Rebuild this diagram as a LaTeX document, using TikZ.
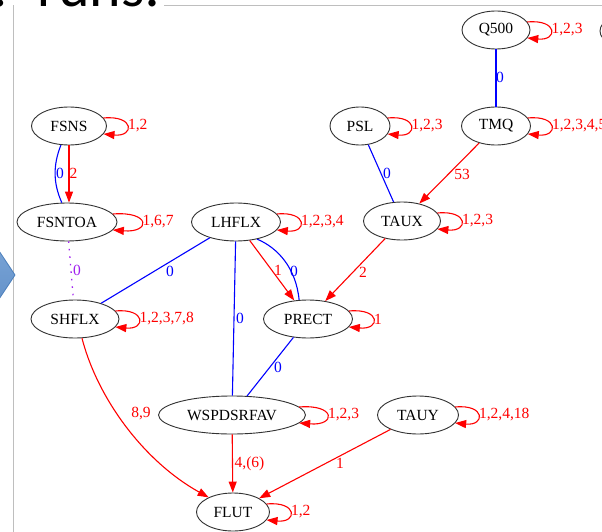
\documentclass[tikz,border=0pt]{standalone}
\usepackage{fontspec}
\setmainfont{Liberation Serif}
\newfontfamily\gvfont{Liberation Serif}
\newfontfamily\slidefont{Carlito}
\usetikzlibrary{shapes.geometric,arrows.meta,calc}

\definecolor{gvred}{rgb}{1,0,0}
\definecolor{gvblue}{rgb}{0,0,1}
\definecolor{gvpurple}{RGB}{160,32,240}
\definecolor{gvline}{RGB}{50,50,50}
\definecolor{framegray}{RGB}{190,190,190}
\definecolor{arrowtop}{RGB}{141,180,226}
\definecolor{arrowbot}{RGB}{79,129,189}
\definecolor{arrowedge}{RGB}{74,126,187}

\tikzset{
  var/.style={ellipse, draw=gvline, line width=0.9pt, inner sep=0pt,
    minimum height=38pt, font=\gvfont\fontsize{15.5}{18}\selectfont},
  elbl/.style={inner sep=0.5pt, font=\gvfont\fontsize{15.5}{18}\selectfont},
  redge/.style={draw=gvred, line width=1.1pt, -{Triangle[length=11pt,width=8pt]}},
  bedge/.style={draw=gvblue, line width=1.1pt},
  pedge/.style={draw=gvpurple, line width=1.3pt, dash pattern=on 1.5pt off 6pt},
}

% self-loop on the right side of a variable: [reach]{node}{inset}{lags}
\newcommand{\selfloop}[4][20]{%
  \draw[redge] ($(#2.east)+(-#3,-8)$)
    .. controls +({(#1+#3)/0.75},-3) and +({(#1+#3)/0.75},3) ..
    ($(#2.east)+(-#3,8)$)
    node[pos=0.5, elbl, text=gvred, anchor=west] (#2-lp) {#4};}

\begin{document}
\begin{tikzpicture}[x=1pt,y=-1pt]
\useasboundingbox (0,0) rectangle (602,532);
\clip (0,0) rectangle (602,532);
\fill[white] (0,0) rectangle (602,532);

% slide title fragment and frame of the graph picture
\node[font=\slidefont\fontsize{60}{60}\selectfont, anchor=base, inner sep=0pt] (tdot) at (0,6.5) {.};
\node[font=\slidefont\fontsize{60}{60}\selectfont, anchor=base west, inner sep=0pt] (runs) at (37,6.5) {runs:};
\draw[framegray, line width=1pt] (13.5,5.5) -- (13.5,532);
\draw[framegray, line width=1pt] (164,5.5) -- (602,5.5);

% slide arrow on the left
\draw[arrowedge, line width=0.8pt, top color=arrowtop, bottom color=arrowbot]
  (-40,192) -- (15,275) -- (-40,358) -- cycle;

% variables
\node[var, minimum width=68pt]  (Q500)   at (496,30)  {Q500};
\node[var, minimum width=74pt]  (cut)    at (637,31)  {};
\node[var, minimum width=75pt]  (FSNS)   at (69,126)  {FSNS};
\node[var, minimum width=60pt]  (PSL)    at (360,126) {PSL};
\node[var, minimum width=69pt]  (TMQ)    at (496,126) {TMQ};
\node[var, minimum width=100pt] (FSNTOA) at (67,222)  {FSNTOA};
\node[var, minimum width=89pt]  (LHFLX)  at (236,222) {LHFLX};
\node[var, minimum width=77pt]  (TAUX)   at (402,221) {TAUX};
\node[var, minimum width=88pt]  (SHFLX)  at (75,319)  {SHFLX};
\node[var, minimum width=89pt]  (PRECT)  at (308,319) {PRECT};
\node[var, minimum width=147pt] (WSPD)   at (232,415) {WSPDSRFAV};
\node[var, minimum width=81pt]  (TAUY)   at (418,415) {TAUY};
\node[var, minimum width=73pt]  (FLUT)   at (233,512) {FLUT};

% self-loops
\selfloop{Q500}{3.2}{1,2,3}
\selfloop{FSNS}{3.5}{1,2}
\selfloop{PSL}{2.8}{1,2,3}
\selfloop{TMQ}{3.2}{1,2,3,4,5}
\selfloop[24]{FSNTOA}{4.6}{1,6,7}
\selfloop[19]{LHFLX}{4.1}{1,2,3,4}
\selfloop{TAUX}{3.6}{1,2,3}
\selfloop[19]{SHFLX}{4.1}{1,2,3,7,8}
\selfloop{PRECT}{4.1}{1}
\selfloop[21]{WSPD}{6.8}{1,2,3}
\selfloop[19]{TAUY}{3.8}{1,2,4,18}
\selfloop{FLUT}{3.4}{1,2}

% links between variables
\draw[bedge] (Q500) -- (TMQ);
\node[elbl, text=gvblue] (lQT) at (500,77) {0};

\draw[redge] (FSNS.south) -- (FSNS.south |- FSNTOA.north);
\node[elbl, text=gvred] (lFF2) at (73.5,173) {2};
\draw[bedge] (FSNS.247) .. controls (53,165) and (53,183) .. (FSNTOA.105);
\node[elbl, text=gvblue] (lFF0) at (60,173) {0};

\draw[pedge] (FSNTOA) -- (SHFLX);
\node[elbl, text=gvpurple] (lFS) at (77,270.5) {0};

\draw[bedge] (LHFLX) -- (SHFLX);
\node[elbl, text=gvblue] (lLS) at (170,271) {0};

\draw[bedge] (LHFLX) -- (WSPD);
\node[elbl, text=gvblue] (lLW) at (240,318) {0};

\draw[redge] (LHFLX) -- (PRECT);
\node[elbl, text=gvred] (lLP1) at (278,270) {1};
\draw[bedge] (LHFLX.-39) .. controls (278,248) and (296,268) .. (PRECT.115);
\node[elbl, text=gvblue] (lLP0) at (294,271) {0};

\draw[redge] (TAUX) -- (PRECT);
\node[elbl, text=gvred] (lTP) at (363,272) {2};

\draw[bedge] (PSL) -- (TAUX);
\node[elbl, text=gvblue] (lPT) at (387,173) {0};

\draw[redge] (TMQ) -- (TAUX);
\node[elbl, text=gvred] (lMT) at (462,174) {53};

\draw[bedge] (PRECT) -- (WSPD);
\node[elbl, text=gvblue] (lPW) at (278,367) {0};

\draw[redge] (SHFLX.-70) .. controls (98,400) and (145,462) .. (FLUT.149);
\node[elbl, text=gvred] (lSF) at (141,413.5) {8,9};

\draw[redge] (WSPD) -- (FLUT);
\node[elbl, text=gvred, anchor=west] (lWF) at (234,464) {4,(6)};

\draw[redge] (TAUY) -- (FLUT);
\node[elbl, text=gvred] (lYF) at (340,463) {1};
\end{tikzpicture}
\end{document}
